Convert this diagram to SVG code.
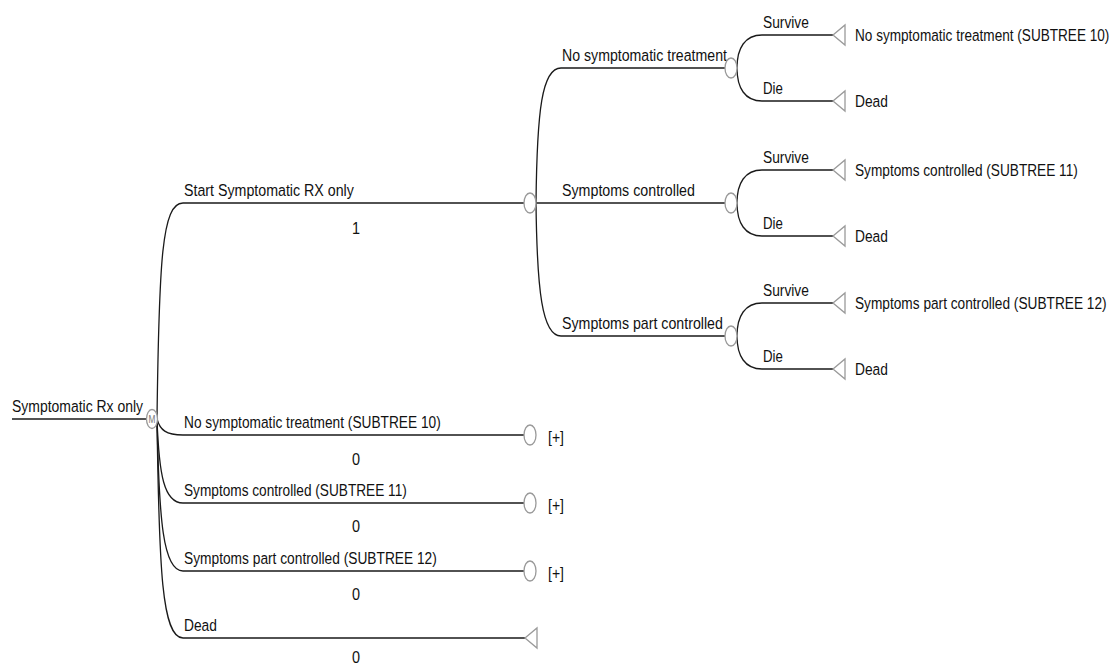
<svg xmlns="http://www.w3.org/2000/svg" width="1115" height="668" viewBox="0 0 1115 668">
<style>
  text { font-family: "Liberation Sans", Arial, sans-serif; font-size: 17px; fill: #111; }
  .val { text-anchor: middle; }
  .conn { fill: none; stroke: #1a1a1a; stroke-width: 1.3; }
  .chance { fill: #fff; stroke: #9a9a9a; stroke-width: 1.3; }
  .term { fill: #fff; stroke: #9a9a9a; stroke-width: 1.3; stroke-linejoin: miter; }
  .mk { font-size: 11px; fill: #777; text-anchor: middle; }
</style>
<rect width="1115" height="668" fill="#fff"/>

<g id="connectors">
  <path class="conn" d="M12,419 H146"/>
  <path class="conn" d="M157,419 C159,260 162,203 183,203 H524"/>
  <path class="conn" d="M157,419 C160,430 166,435 183,435 H524"/>
  <path class="conn" d="M157,419 C159,475 164,503 183,503 H524"/>
  <path class="conn" d="M157,419 C159,520 163,571 183,571 H524"/>
  <path class="conn" d="M157,419 C159,570 162,638 183,638 H525"/>
  <path class="conn" d="M536,203 C537,110 542,68 561,68 H725"/>
  <path class="conn" d="M536,203 H725"/>
  <path class="conn" d="M536,203 C537,290 542,336 561,336 H725"/>
  <path class="conn" d="M737,68 C737,48 745,35 762,35 H833"/>
  <path class="conn" d="M737,68 C737,88 745,101 762,101 H833"/>
  <path class="conn" d="M737,203 C737,183 745,170 762,170 H833"/>
  <path class="conn" d="M737,203 C737,223 745,236 762,236 H833"/>
  <path class="conn" d="M737,336 C737,316 745,303 762,303 H833"/>
  <path class="conn" d="M737,336 C737,356 745,369 762,369 H833"/>
</g>

<g id="root">
  <text transform="translate(12,412) scale(0.821,1)">Symptomatic Rx only</text>
  <ellipse class="chance" cx="152" cy="419" rx="5.5" ry="9.5"/>
  <text class="mk" transform="translate(152,423) scale(0.75,1)">M</text>
</g>

<g id="n-start">
  <text transform="translate(184,196) scale(0.837,1)">Start Symptomatic RX only</text>
  <text class="val" transform="translate(356,234) scale(0.85,1)">1</text>
  <ellipse class="chance" cx="530" cy="203" rx="6" ry="10"/>
</g>

<g id="n-l1-nosym">
  <text transform="translate(184,428) scale(0.807,1)">No symptomatic treatment (SUBTREE 10)</text>
  <text class="val" transform="translate(356,465) scale(0.85,1)">0</text>
  <ellipse class="chance" cx="530" cy="435" rx="6" ry="10"/>
  <text transform="translate(548,443) scale(0.825,1)">[+]</text>
</g>

<g id="n-l1-ctrl">
  <text transform="translate(184,496) scale(0.804,1)">Symptoms controlled (SUBTREE 11)</text>
  <text class="val" transform="translate(356,532) scale(0.85,1)">0</text>
  <ellipse class="chance" cx="530" cy="503" rx="6" ry="10"/>
  <text transform="translate(548,511) scale(0.825,1)">[+]</text>
</g>

<g id="n-l1-part">
  <text transform="translate(184,564) scale(0.809,1)">Symptoms part controlled (SUBTREE 12)</text>
  <text class="val" transform="translate(356,600) scale(0.85,1)">0</text>
  <ellipse class="chance" cx="530" cy="571" rx="6" ry="10"/>
  <text transform="translate(548,579) scale(0.825,1)">[+]</text>
</g>

<g id="n-l1-dead">
  <text transform="translate(184,631) scale(0.81,1)">Dead</text>
  <text class="val" transform="translate(356,663) scale(0.85,1)">0</text>
  <polygon class="term" points="525,638 537,628 537,648"/>
</g>

<g id="n-l2-nosym">
  <text transform="translate(562,61) scale(0.832,1)">No symptomatic treatment</text>
  <ellipse class="chance" cx="731" cy="68" rx="6" ry="10"/>
</g>

<g id="n-l2-ctrl">
  <text transform="translate(562,196) scale(0.838,1)">Symptoms controlled</text>
  <ellipse class="chance" cx="731" cy="203" rx="6" ry="10"/>
</g>

<g id="n-l2-part">
  <text transform="translate(562,329) scale(0.835,1)">Symptoms part controlled</text>
  <ellipse class="chance" cx="731" cy="336" rx="6" ry="10"/>
</g>

<g id="t1-survive">
  <text transform="translate(763,28) scale(0.81,1)">Survive</text>
  <polygon class="term" points="833,35 845,25 845,45"/>
  <text transform="translate(855,41) scale(0.80,1)">No symptomatic treatment (SUBTREE 10)</text>
</g>
<g id="t1-die">
  <text transform="translate(763,94) scale(0.78,1)">Die</text>
  <polygon class="term" points="833,101 845,91 845,111"/>
  <text transform="translate(855,107) scale(0.81,1)">Dead</text>
</g>

<g id="t2-survive">
  <text transform="translate(763,163) scale(0.81,1)">Survive</text>
  <polygon class="term" points="833,170 845,160 845,180"/>
  <text transform="translate(855,176) scale(0.804,1)">Symptoms controlled (SUBTREE 11)</text>
</g>
<g id="t2-die">
  <text transform="translate(763,229) scale(0.78,1)">Die</text>
  <polygon class="term" points="833,236 845,226 845,246"/>
  <text transform="translate(855,242) scale(0.81,1)">Dead</text>
</g>

<g id="t3-survive">
  <text transform="translate(763,296) scale(0.81,1)">Survive</text>
  <polygon class="term" points="833,303 845,293 845,313"/>
  <text transform="translate(855,309) scale(0.805,1)">Symptoms part controlled (SUBTREE 12)</text>
</g>
<g id="t3-die">
  <text transform="translate(763,362) scale(0.78,1)">Die</text>
  <polygon class="term" points="833,369 845,359 845,379"/>
  <text transform="translate(855,375) scale(0.81,1)">Dead</text>
</g>
</svg>
